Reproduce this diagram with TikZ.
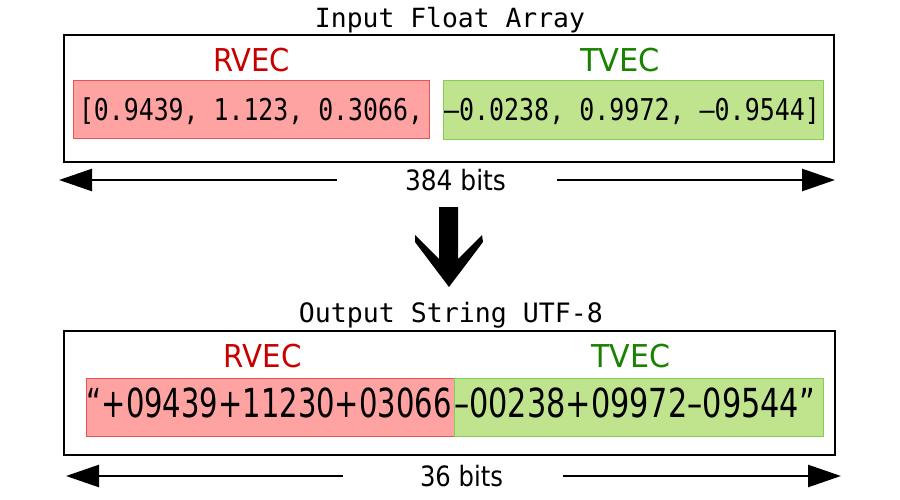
\documentclass[tikz,border=0pt]{standalone}
\usepackage{fontspec}
\usepackage{graphicx}
\setmainfont{DejaVu Sans}
\newfontfamily\monof{DejaVu Sans Mono}
\usetikzlibrary{arrows.meta}
\definecolor{rtext}{RGB}{200,0,0}
\definecolor{gtext}{RGB}{25,130,0}
\definecolor{rfill}{RGB}{255,162,162}
\definecolor{rline}{RGB}{232,84,84}
\definecolor{gfill}{RGB}{191,228,141}
\definecolor{gline}{RGB}{128,208,88}
\newcommand{\fitw}[2]{\resizebox{#1}{\height}{#2}}
\tikzset{
  txt/.style={inner sep=0pt, outer sep=0pt, anchor=base},
  outerbox/.style={draw=black, line width=2pt},
  redbox/.style={fill=rfill, draw=rline, line width=0.8pt},
  greenbox/.style={fill=gfill, draw=gline, line width=0.8pt},
  bitarrow/.style={line width=2.5pt, -{Triangle[length=33pt, width=22pt]}},
}
\begin{document}
\begin{tikzpicture}[x=1pt, y=-1pt]
\useasboundingbox (0,0) rectangle (900,500);

% ---------- top part ----------
\node[txt] (title1) at (450,28) {\fitw{270pt}{\monof\fontsize{26.4}{30}\selectfont Input Float Array}};
\draw[outerbox] (64,35) rectangle (834,162);
\draw[redbox] (73,80) rectangle (429,138);
\draw[greenbox] (443,80) rectangle (823,139);
\node[txt, text=rtext] (rlab1) at (251.7,71.7) {\fitw{77pt}{\fontsize{31.5}{34}\selectfont RVEC}};
\node[txt, text=gtext] (tlab1) at (620,71.7) {\fitw{80pt}{\fontsize{31.5}{34}\selectfont TVEC}};
\node[txt, anchor=base west] (data1r) at (79,121) {\fitw{344pt}{\monof\fontsize{30}{32}\selectfont [0.9439, 1.123, 0.3066,}};
\node[txt, anchor=base west] (data1g) at (444,121) {\fitw{376pt}{\monof\fontsize{30}{32}\selectfont –0.0238, 0.9972, –0.9544]}};

\node[txt] (bits1) at (455.5,190) {\fitw{101pt}{\fontsize{28}{30}\selectfont 384 bits}};
\coordinate (l1s) at (337,180);
\coordinate (l1e) at (59,180);
\coordinate (r1s) at (557,180);
\coordinate (r1e) at (835,180);
\draw[bitarrow] (l1s) -- (l1e);
\draw[bitarrow] (r1s) -- (r1e);

% ---------- down arrow ----------
\fill[black] (439,207) -- (458,207) -- (458,259) -- (482,235) -- (483,242)
  -- (449,287) -- (415,242) -- (415,235) -- (439,259) -- cycle;

% ---------- bottom part ----------
\node[txt] (title2) at (451,322) {\fitw{304pt}{\monof\fontsize{26.7}{30}\selectfont Output String UTF-8}};
\draw[outerbox] (64,331) rectangle (835,455);
\draw[redbox] (86,378) rectangle (454,436);
\draw[greenbox] (454,378) rectangle (823,436);
\node[txt, text=rtext] (rlab2) at (262.8,367.7) {\fitw{77.7pt}{\fontsize{31.5}{34}\selectfont RVEC}};
\node[txt, text=gtext] (tlab2) at (631,367.7) {\fitw{79pt}{\fontsize{31.5}{34}\selectfont TVEC}};
\node[txt, anchor=base west] (data2r) at (86.7,417) {\fitw{365pt}{\fontsize{40}{42}\selectfont “+09439+11230+03066}};
\node[txt, anchor=base west] (data2g) at (454,417) {\fitw{361pt}{\fontsize{40}{42}\selectfont –00238+09972–09544”}};

\node[txt] (bits2) at (461.5,486.7) {\fitw{83pt}{\fontsize{28}{30}\selectfont 36 bits}};
\coordinate (l2s) at (343,476);
\coordinate (l2e) at (66,476);
\coordinate (r2s) at (563,476);
\coordinate (r2e) at (841,476);
\draw[bitarrow] (l2s) -- (l2e);
\draw[bitarrow] (r2s) -- (r2e);
\end{tikzpicture}
\end{document}
